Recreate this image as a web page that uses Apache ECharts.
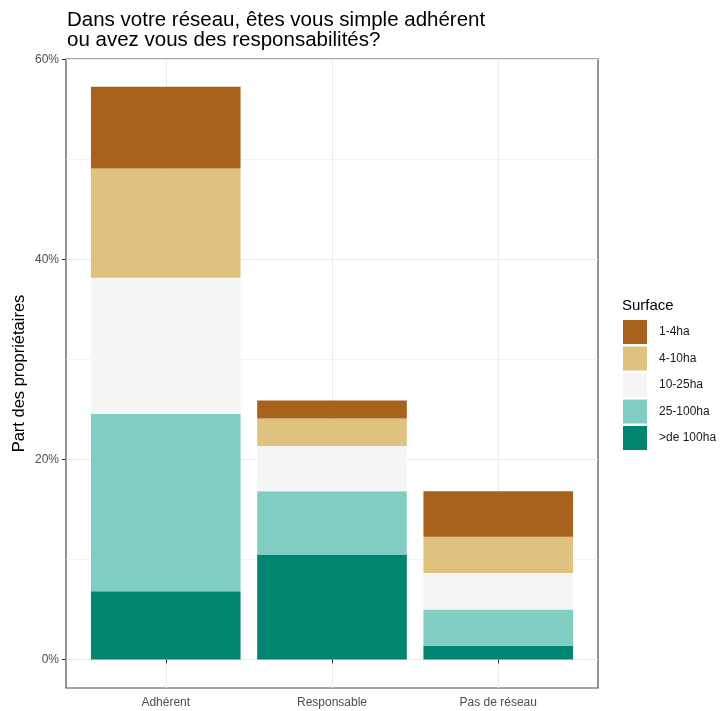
<!DOCTYPE html>
<html>
<head>
<meta charset="utf-8">
<script src="https://cdn.jsdelivr.net/npm/echarts@6/dist/echarts.min.js"></script>
<style>html,body{margin:0;padding:0;background:#fff;}#c{width:726px;height:711px;}</style>
</head>
<body>
<div id="c"></div>
<script>
// Data (percent of owners)
const categories = ['Adhérent', 'Responsable', 'Pas de réseau'];
const surfaces = ['1-4ha', '4-10ha', '10-25ha', '25-100ha', '>de 100ha'];
const v_1_4 = [8.18, 1.82, 4.55];
const v_4_10 = [10.91, 2.73, 3.64];
const v_10_25 = [13.64, 4.55, 3.64];
const v_25_100 = [17.73, 6.36, 3.64];
const v_100 = [6.82, 10.45, 1.36];
const yTicks = [0, 20, 40, 60];
const yMinor = [10, 30, 50];
const colors = {'1-4ha': '#A6611A', '4-10ha': '#DFC27D', '10-25ha': '#F5F5F5', '25-100ha': '#80CDC1', '>de 100ha': '#018571'};

const seriesValues = {'1-4ha': v_1_4, '4-10ha': v_4_10, '10-25ha': v_10_25, '25-100ha': v_25_100, '>de 100ha': v_100};
const xPos = categories.map((c, i) => i + 1);
const FONT = 'Liberation Sans, Arial, sans-serif';

const chart = echarts.init(document.getElementById('c'), null, {renderer: 'canvas'});
const stackOrder = surfaces.slice().reverse(); // bottom first
const series = stackOrder.map(name => ({
  name: name,
  type: 'bar',
  stack: 'total',
  xAxisIndex: 1, yAxisIndex: 1,
  barWidth: '90%',
  itemStyle: {color: colors[name]},
  emphasis: {disabled: true},
  data: seriesValues[name]
}));
// minor horizontal gridlines, drawn behind bars
series.push({
  type: 'scatter', xAxisIndex: 0, yAxisIndex: 0, data: [], silent: true,
  markLine: {
    silent: true, symbol: 'none', z: 1,
    label: {show: false},
    lineStyle: {color: '#EBEBEB', width: 0.6, type: 'solid'},
    emphasis: {disabled: true},
    data: yMinor.map(v => ({yAxis: v}))
  }
});

chart.setOption({
  animation: false,
  backgroundColor: '#fff',
  textStyle: {fontFamily: FONT},
  title: [
    {text: 'Dans votre réseau, êtes vous simple adhérent\nou avez vous des responsabilités?',
     left: 62, top: 5,
     textStyle: {fontSize: 20.5, fontWeight: 'normal', color: '#000', lineHeight: 20, fontFamily: FONT}},
    {text: 'Surface', left: 617, top: 293,
     textStyle: {fontSize: 15, fontWeight: 'normal', color: '#000', fontFamily: FONT}}
  ],
  legend: {
    orient: 'vertical', left: 618, top: 315,
    itemWidth: 24, itemHeight: 24, itemGap: 2.5,
    icon: 'rect',
    data: surfaces,
    selectedMode: false,
    textStyle: {fontSize: 12, color: '#1A1A1A', padding: [0, 0, 0, 7], fontFamily: FONT}
  },
  grid: [
    {left: 66, right: 128, top: 59, bottom: 23, outerBoundsMode: 'none', containLabel: false, show: true, borderColor: '#4D4D4D', borderWidth: 1.2, backgroundColor: 'transparent'},
    {left: 82.625, right: 144.625, top: 59, bottom: 23, outerBoundsMode: 'none', containLabel: false}
  ],
  xAxis: [{
    type: 'value', gridIndex: 0, min: 0.4, max: 3.6,
    axisLine: {show: false},
    axisTick: {show: true, length: 4, lineStyle: {color: '#333'}, customValues: xPos},
    axisLabel: {customValues: xPos, formatter: v => categories[Math.round(v) - 1], fontSize: 12, color: '#4D4D4D', margin: 9, fontFamily: FONT},
    splitLine: {show: true, lineStyle: {color: '#EBEBEB', width: 1}}
  }, {
    type: 'category', gridIndex: 1, data: categories, boundaryGap: true,
    show: false
  }],
  yAxis: [{
    type: 'value', gridIndex: 0, min: -2.86, max: 60.06,
    name: 'Part des propriétaires', nameLocation: 'middle', nameGap: 38, nameMoveOverlap: false,
    nameTextStyle: {fontSize: 16.5, color: '#000', fontFamily: FONT},
    axisLine: {show: false},
    axisTick: {show: true, length: 4, lineStyle: {color: '#333'}, customValues: yTicks},
    axisLabel: {customValues: yTicks, formatter: v => v + '%', fontSize: 12, color: '#4D4D4D', margin: 7, fontFamily: FONT},
    splitLine: {show: true, lineStyle: {color: '#EBEBEB', width: 1}}
  }, {
    type: 'value', gridIndex: 1, min: -2.86, max: 60.06, show: false,
    splitLine: {show: false}
  }],
  series: series
});
</script>
</body>
</html>
